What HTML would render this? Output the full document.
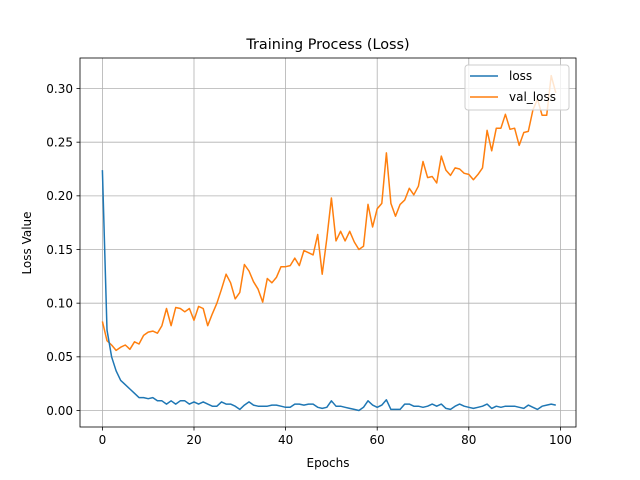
<!DOCTYPE html>
<html><head><meta charset="utf-8"><style>body{margin:0;background:#fff}svg{display:block}text{font-family:"DejaVu Sans","Liberation Sans",sans-serif;fill:#000}</style></head>
<body>
<svg id="s" width="640" height="480" xmlns="http://www.w3.org/2000/svg">
<rect width="640" height="480" fill="#fff"/>
<g id="grid" stroke="#b0b0b0" stroke-width="0.8"></g>
<g id="ticks" font-size="12"></g>
<polyline id="vl" fill="none" stroke="#ff7f0e" stroke-width="1.5" stroke-linejoin="round"/>
<polyline id="l" fill="none" stroke="#1f77b4" stroke-width="1.5" stroke-linejoin="round"/>
<rect x="80" y="58" width="496" height="369" fill="none" stroke="#000" stroke-width="0.8"/>
<text x="328" y="49" font-size="14.4" text-anchor="middle">Training Process (Loss)</text>
<text x="328" y="467" font-size="12" text-anchor="middle">Epochs</text>
<text x="31" y="243" font-size="12" text-anchor="middle" transform="rotate(-90 31 243)">Loss Value</text>
<rect x="465" y="65" width="104" height="45" rx="3" fill="#fff" fill-opacity="0.8" stroke="#ccc"/>
<line x1="470" y1="76" x2="498" y2="76" stroke="#1f77b4" stroke-width="1.5"/>
<text x="509" y="80" font-size="12">loss</text>
<line x1="470" y1="97" x2="498" y2="97" stroke="#ff7f0e" stroke-width="1.5"/>
<text x="509" y="101" font-size="12">val_loss</text>
</svg>
<script>
var X=function(e){return 102.4+e*4.58},Y=function(v){return 410.5-v*1073.3};
var g=document.getElementById('grid'),t=document.getElementById('ticks'),ns='http://www.w3.org/2000/svg',h='';
var tk='';
for(var i=0;i<=100;i+=20){var x=X(i);h+='<line x1="'+x+'" y1="58" x2="'+x+'" y2="427"/>';tk+='<line x1="'+x+'" y1="427" x2="'+x+'" y2="430.5" stroke="#000" stroke-width="0.8"/><text x="'+x+'" y="444" text-anchor="middle">'+i+'</text>';}
for(var j=0;j<=6;j++){var v=j*0.05,y=Y(v);h+='<line x1="80" y1="'+y+'" x2="576" y2="'+y+'"/>';tk+='<line x1="76.5" y1="'+y+'" x2="80" y2="'+y+'" stroke="#000" stroke-width="0.8"/><text x="73" y="'+(y+4.3)+'" text-anchor="end">'+v.toFixed(2)+'</text>';}
g.innerHTML=h;t.innerHTML=tk;
var vl=[0.083,0.065,0.061,0.056,0.059,0.061,0.057,0.064,0.062,0.070,0.073,0.074,0.072,0.079,0.095,0.079,0.096,0.095,0.092,0.095,0.084,0.097,0.095,0.079,0.090,0.100,0.113,0.127,0.119,0.104,0.110,0.136,0.130,0.120,0.113,0.101,0.123,0.119,0.124,0.134,0.134,0.135,0.142,0.135,0.149,0.147,0.145,0.164,0.127,0.160,0.198,0.158,0.167,0.158,0.167,0.157,0.150,0.153,0.192,0.171,0.188,0.193,0.240,0.193,0.181,0.192,0.196,0.207,0.201,0.209,0.232,0.217,0.218,0.212,0.237,0.224,0.219,0.226,0.225,0.221,0.220,0.215,0.220,0.226,0.261,0.242,0.263,0.263,0.276,0.262,0.263,0.247,0.259,0.260,0.280,0.290,0.275,0.275,0.312,0.296];
var l=[0.224,0.075,0.05,0.037,0.028,0.024,0.020,0.016,0.012,0.012,0.011,0.012,0.009,0.009,0.006,0.009,0.006,0.009,0.009,0.006,0.008,0.006,0.008,0.006,0.004,0.004,0.008,0.006,0.006,0.004,0.001,0.005,0.008,0.005,0.004,0.004,0.004,0.005,0.005,0.004,0.003,0.003,0.006,0.006,0.005,0.006,0.006,0.003,0.002,0.003,0.009,0.004,0.004,0.003,0.002,0.001,0.000,0.003,0.009,0.005,0.003,0.005,0.010,0.001,0.001,0.001,0.006,0.006,0.004,0.004,0.003,0.004,0.006,0.004,0.006,0.002,0.001,0.004,0.006,0.004,0.003,0.002,0.003,0.004,0.006,0.002,0.004,0.003,0.004,0.004,0.004,0.003,0.002,0.005,0.003,0.001,0.004,0.005,0.006,0.005];
function pts(a){return a.map(function(v,i){return X(i).toFixed(1)+','+Y(v).toFixed(1)}).join(' ')}
document.getElementById('vl').setAttribute('points',pts(vl));
document.getElementById('l').setAttribute('points',pts(l));
</script>
</body></html>
